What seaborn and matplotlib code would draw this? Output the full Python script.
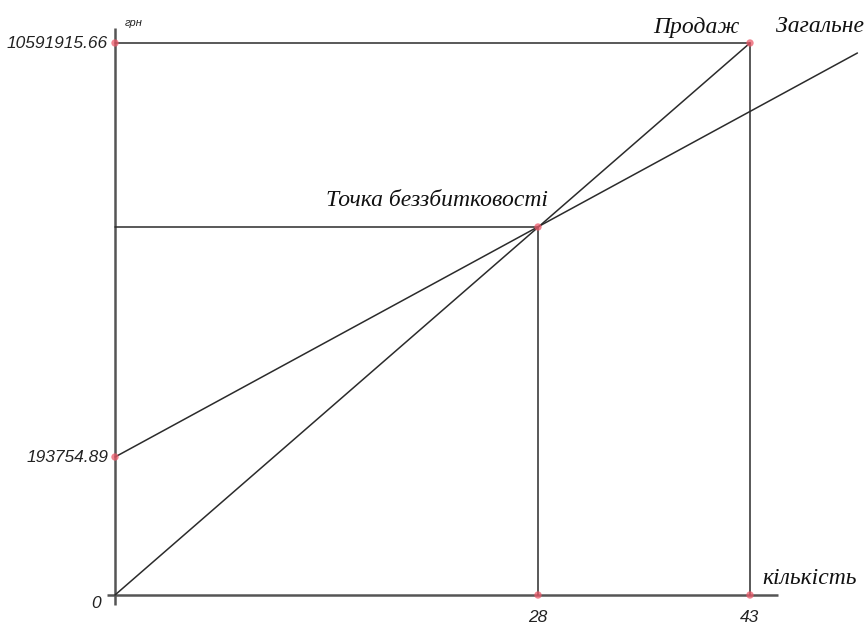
import numpy as np
import pandas as pd
import seaborn as sns
import matplotlib.pyplot as plt

# break-even chart (точка беззбитковості)
qty_ticks = [0, 28, 43]
qty_labels = ['0', '28', '43']
uah_ticks = [0, 193754.89, 10591915.66]
uah_labels = ['0', '193754.89', '10591915.66']

fixed_costs = 193754.89
sales_top = 10591915.66
be_qty = 28
be_value = 5970500
max_qty = 43
cost_end_qty = 50.6
cost_end_value = 10340800

# the sketch is not drawn to scale, so the axes use piecewise linear scales
# that put the labelled ticks where the drawing has them
qty_px = [0, 423, 635]
uah_px = [0, 138, 552]


def piecewise(src, dst):
    src = np.asarray(src, float)
    dst = np.asarray(dst, float)
    lo = (dst[1] - dst[0]) / (src[1] - src[0])
    hi = (dst[-1] - dst[-2]) / (src[-1] - src[-2])

    def f(v):
        v = np.asarray(v, float)
        out = np.interp(v, src, dst)
        out = np.where(v < src[0], dst[0] + (v - src[0]) * lo, out)
        out = np.where(v > src[-1], dst[-1] + (v - src[-1]) * hi, out)
        return out
    return f


x_fwd, x_inv = piecewise(qty_ticks, qty_px), piecewise(qty_px, qty_ticks)
y_fwd, y_inv = piecewise(uah_ticks, uah_px), piecewise(uah_px, uah_ticks)

sns.set_style('white')
serif = ['Liberation Serif', 'DejaVu Serif']
sans = ['Liberation Sans', 'DejaVu Sans']

fig = plt.figure(figsize=(8.67, 6.29), dpi=100)
ax = fig.add_axes([0, 0, 1, 1])
ax.set_xscale('function', functions=(x_fwd, x_inv))
ax.set_yscale('function', functions=(y_fwd, y_inv))

line_kw = dict(color='#2b2b2b', linewidth=1.1, sort=False, estimator=None, legend=False)

# axes drawn as plain lines, slightly past the origin like in the drawing
ax.plot(x_inv([-8, 663]), [0, 0], color='#555555', linewidth=1.8, solid_capstyle='butt')
ax.plot([0, 0], y_inv([-10, 567]), color='#555555', linewidth=1.8, solid_capstyle='butt')

sales = pd.DataFrame({'qty': [0, max_qty], 'uah': [0, sales_top]})
costs = pd.DataFrame({'qty': [0, cost_end_qty], 'uah': [fixed_costs, cost_end_value]})
sns.lineplot(data=sales, x='qty', y='uah', ax=ax, **line_kw)
sns.lineplot(data=costs, x='qty', y='uah', ax=ax, **line_kw)

guides = [
    ([0, be_qty], [be_value, be_value]),
    ([be_qty, be_qty], [be_value, 0]),
    ([0, max_qty], [sales_top, sales_top]),
    ([max_qty, max_qty], [sales_top, 0]),
]
for gx, gy in guides:
    sns.lineplot(x=gx, y=gy, ax=ax, **line_kw)

pts = pd.DataFrame({'qty': [0, 0, be_qty, max_qty, be_qty, max_qty],
                    'uah': [sales_top, fixed_costs, be_value, sales_top, 0, 0]})
sns.scatterplot(data=pts, x='qty', y='uah', ax=ax, color='#ec5a6a', alpha=0.75,
                s=28, edgecolor='none', zorder=5)

ax.set_xlim(float(x_inv(-115)), float(x_inv(752)))
ax.set_ylim(float(y_inv(-34)), float(y_inv(595)))
ax.axis('off')

tick_kw = dict(textcoords='offset pixels', family=sans, style='italic',
               fontsize=12.5, color='#222222')
for val, lab in zip(uah_ticks[1:], uah_labels[1:]):
    ax.annotate(lab, (0, val), xytext=(-7, 0), ha='right', va='center', **tick_kw)
ax.annotate(uah_labels[0], (0, 0), xytext=(-19, -8), ha='center', va='center', **tick_kw)
for val, lab in zip(qty_ticks[1:], qty_labels[1:]):
    ax.annotate(lab, (val, 0), xytext=(0, -23), ha='center', va='center', **tick_kw)

ax.annotate('грн', (0, sales_top), xytext=(10, 20), textcoords='offset pixels',
            family=sans, style='italic', fontsize=8, ha='left', va='center', color='#222222')

name_kw = dict(textcoords='offset pixels', family=serif, style='italic',
               fontsize=17, color='#111111', va='center')
ax.annotate('кількість', (max_qty, 0), xytext=(12, 17), ha='left', **name_kw)
ax.annotate('Продаж', (max_qty, sales_top), xytext=(-10, 16), ha='right', **name_kw)
ax.annotate('Загальне', (max_qty, sales_top), xytext=(26, 16), ha='left', **name_kw)
ax.annotate('Точка беззбитковості', (be_qty, be_value), xytext=(10, 27), ha='right', **name_kw)

fig.savefig('out.png', dpi=100)
